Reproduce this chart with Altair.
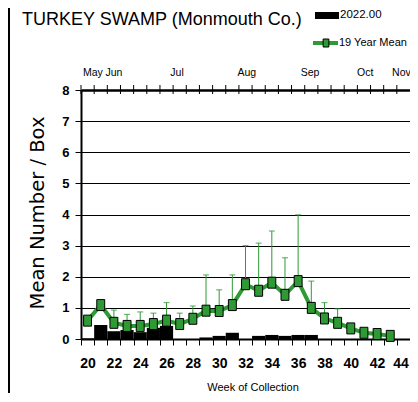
import altair as alt
import pandas as pd

# ---- data ----
weeks = list(range(20, 44))
mean_19yr = [0.59, 1.09, 0.52, 0.42, 0.42, 0.48, 0.59, 0.48, 0.65, 0.91, 0.90, 1.09,
             1.76, 1.55, 1.81, 1.42, 1.86, 1.00, 0.66, 0.52, 0.34, 0.20, 0.16, 0.10]
upper_19yr = [None, None, 0.93, 0.79, 0.87, 0.83, 1.17, 0.83, 1.06, 2.06, 1.58, 2.06,
              3.00, 3.08, 3.47, 2.61, 3.99, 1.86, 1.17, 0.97, None, None, None, None]
y2022 = [0.02, 0.45, 0.25, 0.29, 0.22, 0.36, 0.42, 0.0, 0.0, 0.05, 0.10, 0.20,
         0.0, 0.10, 0.13, 0.10, 0.13, 0.13, 0.0, 0.0, 0.0, 0.0, 0.0, 0.0]
axis_weeks = list(range(20, 45))
x_label_weeks = list(range(20, 45, 2))
y_ticks = list(range(0, 9))
month_labels = ["May", "Jun", "Jul", "Aug", "Sep", "Oct", "Nov"]
month_pos = [20.4, 22.0, 26.8, 32.1, 36.9, 41.1, 43.85]

title_text = "TURKEY SWAMP (Monmouth Co.)"
series_bar = "2022.00"
series_mean = "19 Year Mean"
y_title = "Mean Number / Box"
x_title = "Week of Collection"

# ---- layout ----
W, H = 329, 249
HALF = W / 25 / 2
FONT = "Liberation Sans, Arial, sans-serif"
GREEN = "#2f9a35"
SQUARE = "M-0.72,-1L0.72,-1L0.72,1L-0.72,1Z"

df = pd.DataFrame({"week": weeks, "mean": mean_19yr, "upper": upper_19yr, "y2022": y2022})
err = df.dropna(subset=["upper"])
tick_df = pd.DataFrame({"week": axis_weeks})
month_df = pd.DataFrame({"m": month_labels, "pos": month_pos})

xs = alt.Scale(domain=[19.5, 44.5], nice=False, zero=False)
ys = alt.Scale(domain=[0, 8], nice=False, zero=True)

x_axis = alt.Axis(
    values=axis_weeks, tickOffset=-HALF,
    labelOffset={"condition": {"test": f"datum.value == {axis_weeks[-1]}", "value": HALF - 3},
                 "value": HALF},
    labelExpr=f"indexof({x_label_weeks}, datum.value) >= 0 ? datum.label : ''",
    tickSize=6, tickColor="black", tickWidth=1,
    domainColor="black", domainWidth=2, grid=False, title=None,
    labelFont=FONT, labelFontSize=14, labelFontWeight="bold", labelColor="black",
    labelPadding=11, labelFlush=False, labelOverlap=False,
)
y_axis = alt.Axis(
    values=y_ticks, tickSize=6, tickColor="black", tickWidth=1,
    domainColor="black", domainWidth=2, grid=True, gridColor="black",
    gridWidth={"condition": {"test": "datum.value == 8", "value": 2.5}, "value": 1.2},
    title=None, labelFont=FONT, labelFontSize=13, labelFontWeight="bold",
    labelColor="black", labelPadding=6,
)

X = lambda f: alt.X(f, scale=xs, axis=x_axis)
Y = lambda f: alt.Y(f, scale=ys, axis=y_axis)

bars = alt.Chart(df).transform_calculate(
    x0="datum.week - 0.5", x1="datum.week + 0.5"
).mark_bar(color="black").encode(
    x=X("x0:Q"), x2="x1:Q", y=Y("y2022:Q"), y2=alt.datum(0),
)

err_rule = alt.Chart(err).mark_rule(color=GREEN, strokeWidth=1).encode(
    x=X("week:Q"), y=Y("mean:Q"), y2="upper:Q",
)
err_cap = alt.Chart(err).mark_tick(color=GREEN, orient="horizontal", size=6, thickness=1.2).encode(
    x=X("week:Q"), y=Y("upper:Q"),
)
line = alt.Chart(df).mark_line(color=GREEN, strokeWidth=4).encode(
    x=X("week:Q"), y=Y("mean:Q"),
)
points = alt.Chart(df).mark_point(
    shape=SQUARE, filled=True, fill=GREEN, stroke="black", strokeWidth=1, size=121, opacity=1
).encode(x=X("week:Q"), y=Y("mean:Q"))

top_ticks = alt.Chart(tick_df).transform_calculate(b="datum.week - 0.5").mark_rule(
    color="black", strokeWidth=1
).encode(x=X("b:Q"), y=alt.value(-5), y2=alt.value(4))
months = alt.Chart(month_df).mark_text(
    font=FONT, fontSize=10.5, color="black", baseline="middle", align="center"
).encode(x=X("pos:Q"), y=alt.value(-17), text="m:N")

def label(text, **kw):
    return alt.Chart(pd.DataFrame({"t": [text]})).mark_text(**kw)

title = label(title_text, font=FONT, fontSize=18, color="black", align="left",
              baseline="middle").encode(x=alt.value(-59), y=alt.value(-70), text="t:N")
ytitle = label(y_title, font="DejaVu Sans", fontSize=19.5, color="black", angle=270,
               align="center", baseline="middle").encode(x=alt.value(-43), y=alt.value(123), text="t:N")
xtitle = label(x_title, font=FONT, fontSize=11, color="black", align="center",
               baseline="middle").encode(x=alt.value(172), y=alt.value(298), text="t:N")

leg_rect = label(series_bar).mark_rect(color="black").encode(
    x=alt.value(234), x2=alt.value(258), y=alt.value(-78), y2=alt.value(-71))
leg_t1 = label(series_bar, font=FONT, fontSize=11.5, color="black", align="left",
               baseline="middle").encode(x=alt.value(259), y=alt.value(-75), text="t:N")
leg_line = label(series_mean).mark_rule(color=GREEN, strokeWidth=4).encode(
    x=alt.value(232), x2=alt.value(257), y=alt.value(-47))
leg_pt = label(series_mean).mark_point(
    shape=SQUARE, filled=True, fill=GREEN, stroke="black", strokeWidth=1, size=64, opacity=1
).encode(x=alt.value(245), y=alt.value(-47))
leg_t2 = label(series_mean, font=FONT, fontSize=11, color="black", align="left",
               baseline="middle").encode(x=alt.value(258), y=alt.value(-47), text="t:N")

border = label("b").mark_rule(color="black", strokeWidth=2).encode(
    x=alt.value(-72), y=alt.value(-82), y2=alt.value(310))

chart = alt.layer(
    bars, err_rule, err_cap, line, points, top_ticks, months,
    title, ytitle, xtitle, leg_rect, leg_t1, leg_line, leg_pt, leg_t2, border,
).properties(
    width=W, height=H,
    autosize=alt.AutoSizeParams(type="none"),
    padding={"left": 73, "top": 82, "right": 0, "bottom": 54},
    background="white",
).configure_view(stroke="#888888", strokeWidth=1)

chart.save("out.html", embed_options={"renderer": "svg", "actions": False})
